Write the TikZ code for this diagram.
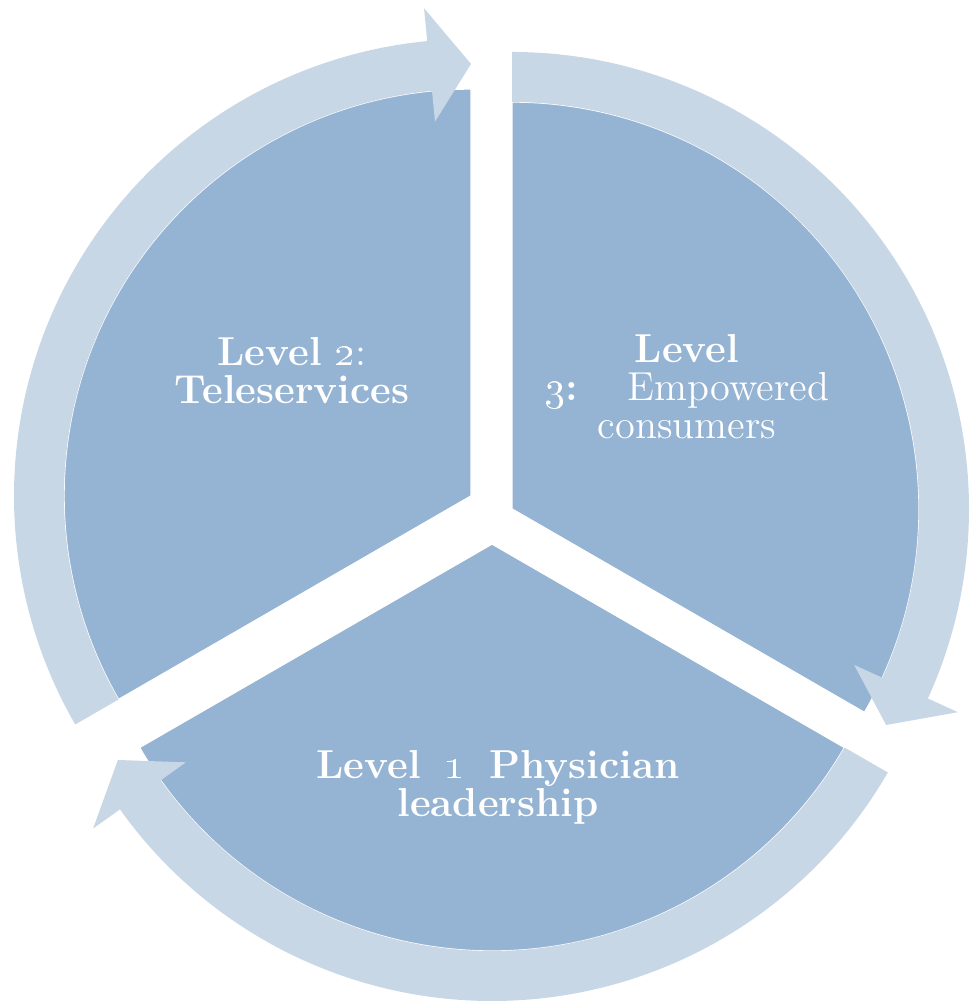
\documentclass[tikz,border=0pt]{standalone}
\usepackage{tikz}
\usetikzlibrary{calc}

\definecolor{pieblue}{RGB}{149,179,210}
\definecolor{ringblue}{RGB}{200,215,230}

\begin{document}
\begin{tikzpicture}[sector/.style={fill=pieblue,draw=white,thin},
ring/.style={fill=ringblue},
lbl/.style={text=white,align=center,font=\fontsize{11.5}{10.8}\selectfont}]
\useasboundingbox (0,0) rectangle (9.70,10.03);
%centres of the three pieces
\coordinate (c2) at (4.71,5.07);
\coordinate (c3) at (5.12,4.94);
\coordinate (c1) at (4.92,4.59);
%pie pieces
\path[sector] (c2) -- ($(c2)+(90:4.07)$) arc[start angle=90,end angle=210,radius=4.07] -- cycle;
\path[sector] (c3) -- ($(c3)+(-30:4.07)$) arc[start angle=-30,end angle=90,radius=4.07] -- cycle;
\path[sector] (c1) -- ($(c1)+(210:4.07)$) arc[start angle=210,end angle=330,radius=4.07] -- cycle;
%arrows round the pie
\begin{scope}[shift={(c2)}]
\fill[ring] (210:4.57) arc[start angle=210,end angle=95.5,radius=4.57] -- (95.5:4.90) -- (90:4.32) -- (95.5:3.76) -- (95.5:4.07) arc[start angle=95.5,end angle=210,radius=4.07] -- cycle;
\end{scope}
\begin{scope}[shift={(c3)}]
\fill[ring] (90:4.57) arc[start angle=90,end angle=-24.5,radius=4.57] -- (-24.5:4.90) -- (-30:4.32) -- (-24.5:3.76) -- (-24.5:4.07) arc[start angle=-24.5,end angle=90,radius=4.07] -- cycle;
\end{scope}
\begin{scope}[shift={(c1)}]
\fill[ring] (330:4.57) arc[start angle=330,end angle=215.5,radius=4.57] -- (215.5:4.90) -- (210:4.32) -- (215.5:3.76) -- (215.5:4.07) arc[start angle=215.5,end angle=330,radius=4.07] -- cycle;
\end{scope}
%labels
\node[lbl] (lvl2) at (2.92,6.32) {\textbf{Level} \oldstylenums{2}:\\\textbf{Teleservices}};
\node[lbl] (lvl3) at (6.87,6.16) {\textbf{Level}\\\textbf{\oldstylenums{3}:}\hspace{0.5cm}Empowered\\consumers};
\node[lbl] (lvl1) at (4.98,2.16) {\textbf{Level\hspace{0.24cm}\oldstylenums{1}\hspace{0.24cm}Physician}\\\textbf{leadership}};
\end{tikzpicture}
\end{document}
